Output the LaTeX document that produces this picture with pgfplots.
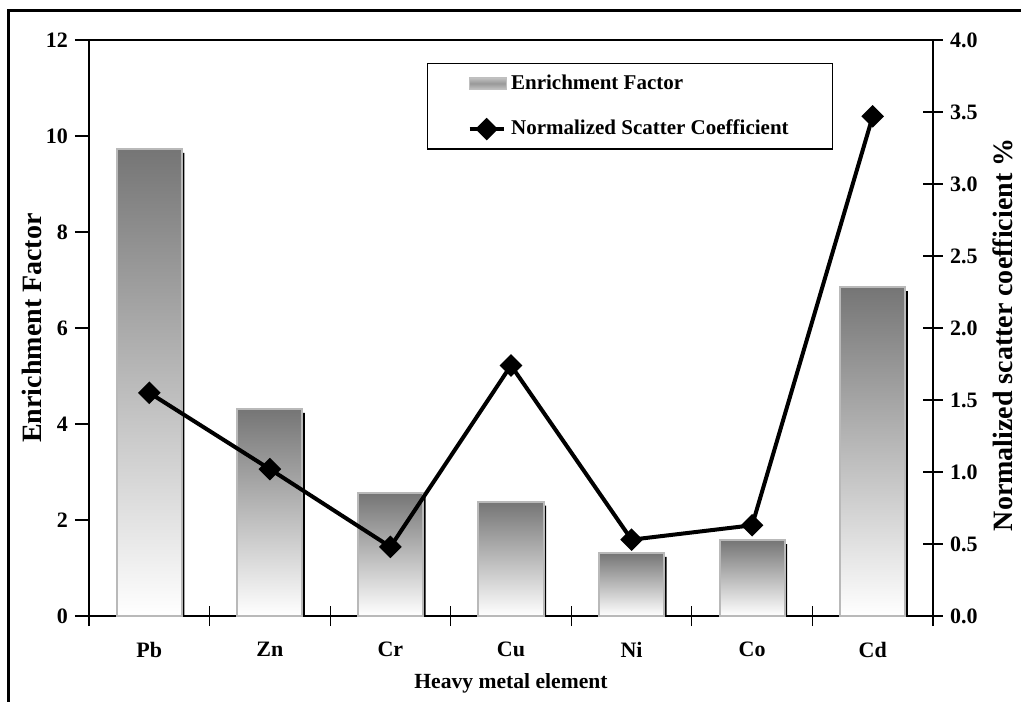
\documentclass[border=0pt]{standalone}
\usepackage{fontspec}
\setmainfont{Liberation Serif}
\usepackage{pgfplots}
\pgfplotsset{compat=1.18}
\pgfplotsset{
  shadowbar/.style={ybar, bar width=32.5pt, bar shift=1.3pt, fill=black, draw=none, forget plot},
  gradbar/.style={ybar, bar width=32.5pt, bar shift=0pt, draw=gray!55, line width=1pt, top color=black!54, bottom color=white, forget plot},
}
\begin{document}
\begin{tikzpicture}
\useasboundingbox (-44.5pt,-42.5pt) rectangle (466pt,308pt);
\draw[line width=1.5pt] (-40pt,-50pt) -- (-40pt,302.5pt) -- (470pt,302.5pt);
\begin{axis}[
  scale only axis, width=422pt, height=288pt,
  xmin=-0.5, xmax=6.5, ymin=0, ymax=12,
  ytick={0,2,...,12}, ytick pos=left, xtick pos=bottom,
  xtick={0,...,6}, xticklabels={Pb,Zn,Cr,Cu,Ni,Co,Cd},
  major x tick style={draw=none},
  minor xtick={-0.5,0.5,...,6.5},
  minor x tick style={black, line width=0.6pt},
  minor tick length=10pt,
  x tick label style={yshift=-6pt},
  y tick style={black, line width=0.6pt},
  ytick align=outside,
  major tick length=7pt,
  xtick align=center,
  axis line style={line width=0.8pt},
  tick label style={font=\fontsize{11}{13}\selectfont\bfseries},
  /pgf/number format/assume math mode=true,
  xlabel={Heavy metal element},
  xlabel style={font=\fontsize{10.8}{12}\selectfont\bfseries, at={(axis description cs:0.5,0)}, anchor=center, yshift=-33.5pt},
  ylabel={Enrichment Factor},
  ylabel style={font=\fontsize{14}{16}\selectfont\bfseries, at={(axis description cs:0,0.5)}, anchor=center, yshift=28.5pt},
  clip=false,
]
\addplot[shadowbar] coordinates {(0,9.65) (1,4.23) (2,2.48) (3,2.30) (4,1.23) (5,1.50) (6,6.77)};
\addplot[gradbar] coordinates {(0,9.73)};
\addplot[gradbar] coordinates {(1,4.31)};
\addplot[gradbar] coordinates {(2,2.56)};
\addplot[gradbar] coordinates {(3,2.38)};
\addplot[gradbar] coordinates {(4,1.31)};
\addplot[gradbar] coordinates {(5,1.58)};
\addplot[gradbar] coordinates {(6,6.85)};
\end{axis}
\begin{axis}[
  scale only axis, width=422pt, height=288pt,
  xmin=-0.5, xmax=6.5, ymin=0, ymax=4,
  axis x line=none, axis y line*=right,
  ytick={0,0.5,...,4},
  y tick style={black, line width=0.6pt},
  ytick align=center, major tick length=10pt,
  axis line style={line width=0.8pt, -},
  tick label style={font=\fontsize{11}{13}\selectfont\bfseries},
  /pgf/number format/assume math mode=true,
  yticklabel style={/pgf/number format/fixed, /pgf/number format/fixed zerofill, /pgf/number format/precision=1},
  ylabel={Normalized scatter coefficient \%},
  ylabel style={font=\fontsize{14}{16}\selectfont\bfseries, at={(axis description cs:1,0.488)}, anchor=center, yshift=-35pt},
  legend style={at={(0.4005,0.960)}, anchor=north west, draw=black, line width=0.6pt,
    font=\fontsize{10.5}{12}\selectfont\bfseries, inner xsep=20pt, inner ysep=3.5pt, row sep=10pt},
  legend cell align=left,
  clip=false,
]
\addlegendimage{legend image code/.code={\draw[draw=gray!50, line width=0.5pt, top color=gray!45, bottom color=gray!45, middle color=gray!80] (0cm,-0.11cm) rectangle (0.65cm,0.11cm);}}
\addlegendentry{Enrichment Factor}
\addplot[black, line width=2pt, mark=square*, mark size=3pt, mark options={rotate=45, solid}]
  coordinates {(0,1.55) (1,1.02) (2,0.48) (3,1.74) (4,0.53) (5,0.63) (6,3.47)};
\addlegendentry{Normalized Scatter Coefficient}
\end{axis}
\end{tikzpicture}
\end{document}
